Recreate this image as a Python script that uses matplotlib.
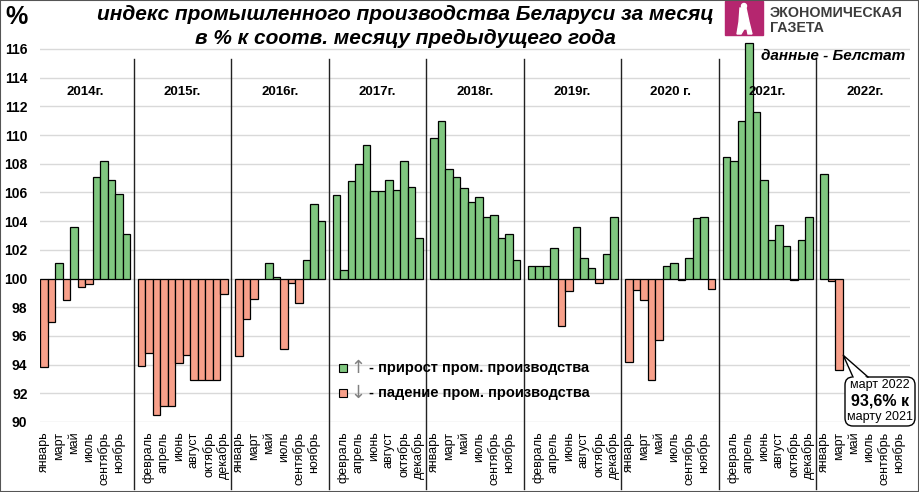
import numpy as np
import matplotlib
matplotlib.use("Agg")
import matplotlib.pyplot as plt
from matplotlib.patches import Rectangle, FancyBboxPatch, Polygon
from matplotlib.lines import Line2D
from matplotlib.transforms import IdentityTransform

plt.rcParams['font.family'] = ['Liberation Sans', 'DejaVu Sans']

YEARS = ["2014г.", "2015г.", "2016г.", "2017г.", "2018г.", "2019г.", "2020 г.", "2021г.", "2022г."]
MONTHS = ["январь", "февраль", "март", "апрель", "май", "июнь",
          "июль", "август", "сентябрь", "октябрь", "ноябрь", "декабрь"]

# индекс, % к соотв. месяцу предыдущего года
v2014 = [93.8, 97.0, 101.1, 98.5, 103.6, 99.4, 99.6, 107.1, 108.2, 106.9, 105.9, 103.1]
v2015 = [93.9, 94.8, 90.5, 91.1, 91.1, 94.1, 94.7, 92.9, 92.9, 92.9, 92.9, 98.9]
v2016 = [94.6, 97.2, 98.6, 100.0, 101.1, 100.1, 95.1, 99.7, 98.3, 101.3, 105.2, 104.0]
v2017 = [105.8, 100.6, 106.8, 108.0, 109.3, 106.1, 106.1, 106.9, 106.2, 108.2, 106.4, 102.8]
v2018 = [109.8, 111.0, 107.6, 107.1, 106.3, 105.3, 105.7, 104.3, 104.4, 102.8, 103.1, 101.3]
v2019 = [100.9, 100.9, 100.9, 102.1, 96.7, 99.1, 103.6, 101.4, 100.7, 99.7, 101.7, 104.3]
v2020 = [94.2, 99.2, 98.5, 92.9, 95.7, 100.9, 101.1, 99.9, 101.4, 104.2, 104.3, 99.3]
v2021 = [108.5, 108.2, 111.0, 116.4, 111.6, 106.9, 102.7, 103.7, 102.3, 99.9, 102.7, 104.3]
v2022 = [107.3, 99.8, 93.6]

values = [v2014, v2015, v2016, v2017, v2018, v2019, v2020, v2021, v2022]

GREEN = '#80C780'
RED = '#F8A08A'
SLOT = 13  # 12 месяцев + пустой столбец между годами

W, H = 919, 492
fig = plt.figure(figsize=(W / 100, H / 100), dpi=100)
ax = fig.add_axes([40 / W, 70 / H, 870 / W, 387.4 / H])

for yi, vals in enumerate(values):
    vals = np.array(vals)
    pos = yi * SLOT + np.arange(len(vals))
    colors = [GREEN if v >= 100 else RED for v in vals]
    ax.bar(pos, vals - 100, bottom=100, width=1.0, color=colors,
           edgecolor='black', linewidth=0.9, zorder=2)

n_slots = SLOT * len(YEARS) - 1
ax.set_xlim(-0.5, n_slots - 0.5)
ax.set_ylim(90, 117)
ax.set_yticks(range(90, 117, 2))
ax.set_yticklabels([str(t) for t in range(90, 117, 2)], fontweight='bold', fontsize=10)

tick_pos, tick_lab = [], []
for p in range(0, n_slots, 2):
    m = p % SLOT
    tick_pos.append(p)
    tick_lab.append(MONTHS[m] if m < 12 else "")
ax.set_xticks(tick_pos)
ax.set_xticklabels(tick_lab, rotation=90, fontsize=9)
ax.tick_params(axis='x', length=0, pad=7)
ax.tick_params(axis='y', length=0, pad=9)

for s in ax.spines.values():
    s.set_visible(False)
ax.yaxis.grid(True, color='#D9D9D9', linewidth=1)
ax.set_axisbelow(True)

# разделители годов и подписи
for yi, name in enumerate(YEARS):
    if yi > 0:
        x = yi * SLOT - 1
        ax.plot([x, x], [115.3, 85.3], color='#222222', linewidth=1,
                clip_on=False, zorder=1)
    ax.text(yi * SLOT + 5.5, 113.0, name, ha='center', va='center',
            fontweight='bold', fontsize=9.5, zorder=4)

# заголовок
fig.text(405 / W, 1 - 15 / H, "индекс промышленного производства Беларуси за месяц",
         ha='center', va='center', fontsize=15, fontweight='bold', style='italic')
fig.text(405 / W, 1 - 38 / H, "в % к соотв. месяцу предыдущего года",
         ha='center', va='center', fontsize=15, fontweight='bold', style='italic')
fig.text(16 / W, 1 - 17 / H, "%", ha='center', va='center', fontsize=18, fontweight='bold')
fig.text(833 / W, 1 - 56 / H, "данные - Белстат", ha='center', va='center',
         fontsize=11, fontweight='bold', style='italic')

# логотип
fig.add_artist(Rectangle((725 / W, 1 - 35 / H), 38 / W, 34 / H,
                         transform=fig.transFigure, color='#B5266F', zorder=5))
idt = IdentityTransform()
fig.add_artist(Polygon([(740, 484), (746, 484), (749, 470), (752, 458), (748, 458),
                        (747, 463), (744, 463), (741, 458), (737, 458), (739, 470)],
                       closed=True, transform=idt, color='white', zorder=6))
fig.add_artist(plt.Circle((744, 486), 2.5, transform=idt, color='white', zorder=6))
fig.text(770 / W, 1 - 13 / H, "ЭКОНОМИЧЕСКАЯ", ha='left', va='center',
         fontsize=10.3, fontweight='bold', color='#3C3C3C')
fig.text(770 / W, 1 - 28 / H, "ГАЗЕТА", ha='left', va='center',
         fontsize=10.3, fontweight='bold', color='#3C3C3C')

# легенда
for row, (col, arrow, label) in enumerate([
        (GREEN, "↑", "- прирост пром. производства"),
        (RED, "↓", "- падение пром. производства")]):
    yc = H - (368 + 25 * row)
    fig.add_artist(Rectangle((339, yc - 4), 8, 8, transform=idt, facecolor=col,
                             edgecolor='black', linewidth=0.8, zorder=5))
    fig.text(358 / W, yc / H, arrow, ha='center', va='center', fontsize=13,
             color='#808080', family='DejaVu Sans')
    fig.text(369 / W, yc / H, label, ha='left', va='center', fontsize=10.5, fontweight='bold')

# выноска для марта 2022
fig.canvas.draw()
mar_pos = 8 * SLOT + 2
tip = ax.transData.transform((mar_pos + 0.6, v2022[2] + 1.05))
bx0, by0, bw, bh = 845, H - 426, 70, 49
fig.add_artist(FancyBboxPatch((bx0, by0), bw, bh, boxstyle='round,pad=0,rounding_size=8',
                              transform=idt, facecolor='white', edgecolor='black',
                              linewidth=1, zorder=5))
top = by0 + bh
fig.add_artist(Polygon([tuple(tip), (853, top - 2), (868, top - 2)], closed=True,
                       transform=idt, facecolor='white', edgecolor='none', zorder=6))
fig.add_artist(Line2D([853, tip[0], 868], [top, tip[1], top], transform=idt,
                      color='black', linewidth=1, zorder=7))
fig.text(880 / W, 1 - 385 / H, "март 2022", ha='center', va='center', fontsize=9, zorder=8)
fig.text(880 / W, 1 - 401 / H, "93,6% к", ha='center', va='center', fontsize=11.5,
         fontweight='bold', zorder=8)
fig.text(880 / W, 1 - 417 / H, "марту 2021", ha='center', va='center', fontsize=9, zorder=8)

# рамка
fig.add_artist(Rectangle((0, 0), 1, 1, transform=fig.transFigure, fill=False,
                         edgecolor='#555555', linewidth=1.5, zorder=10))

fig.savefig("out.png", dpi=100)
